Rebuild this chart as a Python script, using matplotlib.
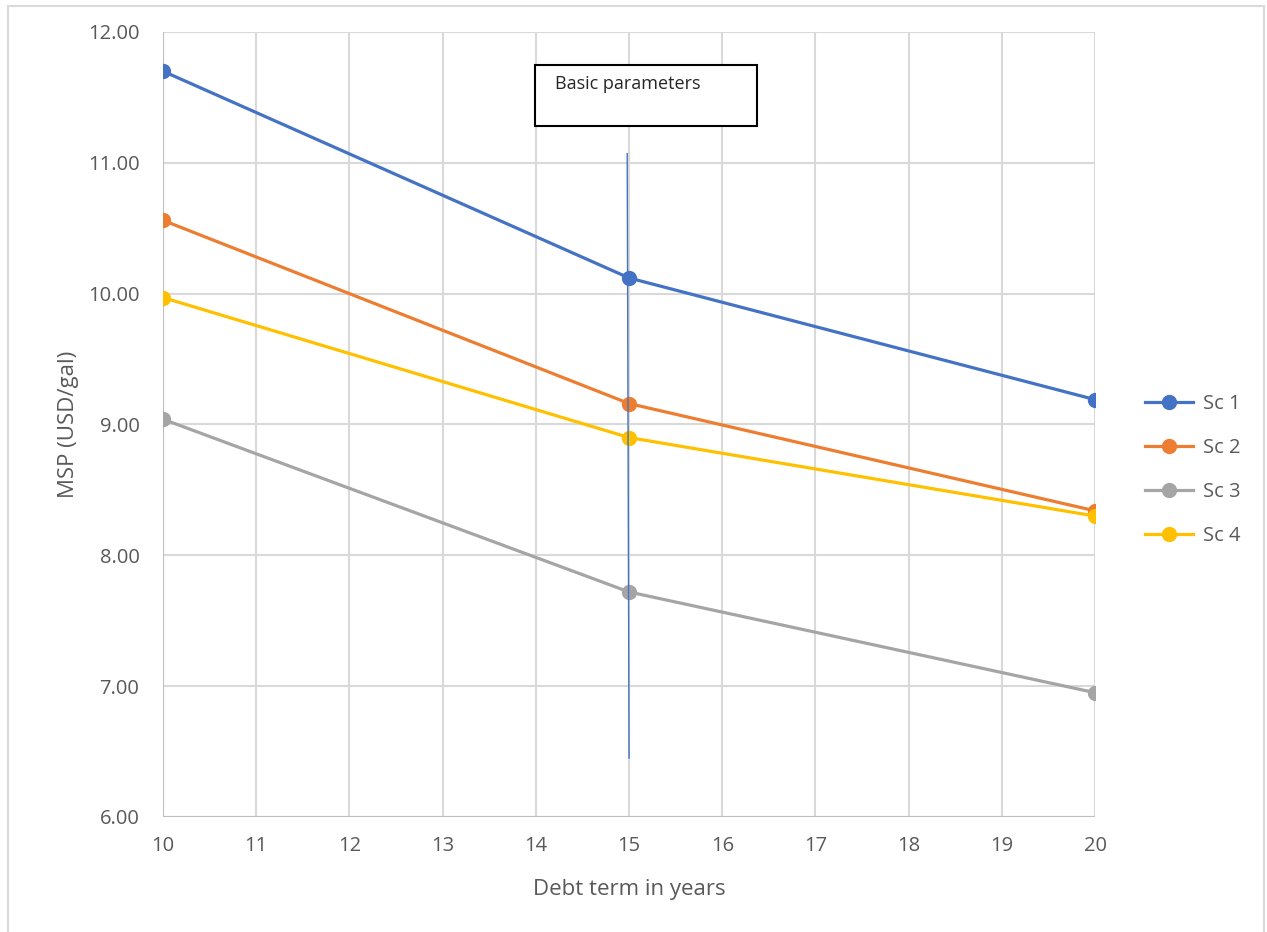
import matplotlib.pyplot as plt
from matplotlib.patches import Rectangle

plt.rcParams['font.family'] = ['Open Sans', 'DejaVu Sans']

years = [10, 15, 20]
sc1 = [11.70, 10.12, 9.19]
sc2 = [10.56, 9.16, 8.34]
sc3 = [9.04, 7.72, 6.95]
sc4 = [9.97, 8.90, 8.30]
series = [("Sc 1", sc1, "#4472C4"), ("Sc 2", sc2, "#ED7D31"),
          ("Sc 3", sc3, "#A5A5A5"), ("Sc 4", sc4, "#FFC000")]

# hand-drawn marker line at the base case
marker_x = [14.98, 15.0]
marker_y = [11.07, 6.45]

fig = plt.figure(figsize=(12.67, 9.32), dpi=100)
ax = fig.add_axes([0.1287, 0.1234, 0.7356, 0.8423])

for name, vals, col in series:
    ax.plot(years, vals, color=col, lw=2.3, marker='o', ms=10, label=name,
            zorder=3)

ax.plot(marker_x, marker_y, color="#4472C4", lw=1.0, zorder=4)

ax.set_xlim(10, 20)
ax.set_ylim(6, 12)
ax.set_xticks(range(10, 21))
ax.set_yticks(range(6, 13))
ax.set_yticklabels([f"{v:.2f}" for v in range(6, 13)])
ax.grid(True, color="#D9D9D9", lw=1.5)
ax.set_axisbelow(True)
for s in ax.spines.values():
    s.set_visible(False)
ax.axhline(6, color="#BFBFBF", lw=1.5, zorder=1)
ax.axvline(10, color="#BFBFBF", lw=1.5, zorder=1)
ax.tick_params(axis='x', length=0, labelsize=14.5, labelcolor="#595959", pad=14)
ax.tick_params(axis='y', length=0, labelsize=14.5, labelcolor="#595959", pad=17)

ax.set_xlabel("Debt term in years", fontsize=16, color="#595959", labelpad=16)
ax.set_ylabel("MSP (USD/gal)", fontsize=16, color="#595959", labelpad=6)

# text box
ax.add_patch(Rectangle((13.99, 11.28), 2.38, 0.47, fill=True, fc="white",
                       ec="black", lw=1.5, zorder=5))
ax.text(14.2, 11.6, "Basic parameters", fontsize=13, color="#262626",
        va="center", ha="left", zorder=6)

leg = ax.legend(loc="upper left", bbox_to_anchor=(0.897, 0.586),
                bbox_transform=fig.transFigure, frameon=False, fontsize=14.5,
                handlelength=2.4, labelspacing=1.2, borderaxespad=0,
                handletextpad=0.5)
for t in leg.get_texts():
    t.set_color("#595959")

fig.patches.append(Rectangle((0.006, -0.01), 0.992, 1.004, transform=fig.transFigure,
                             fill=False, ec="#D9D9D9", lw=1.5))

fig.savefig("out.png", dpi=100)
